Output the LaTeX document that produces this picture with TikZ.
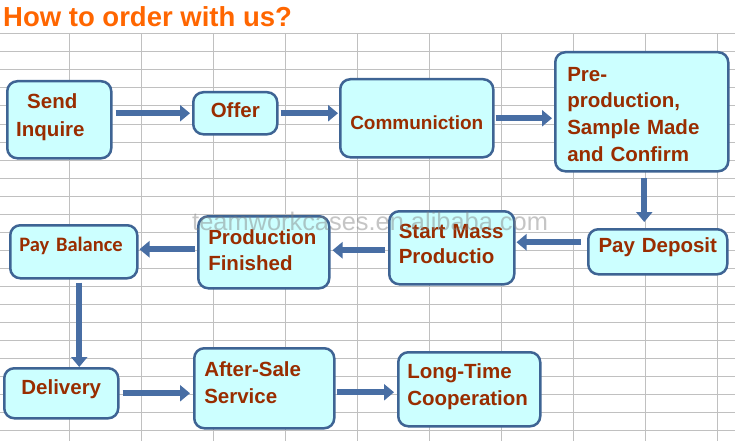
\documentclass[tikz,border=0pt]{standalone}
\usepackage{fontspec}
\setmainfont{Liberation Sans}
\newfontfamily\calibrifont{Carlito}
\usetikzlibrary{arrows.meta, calc}

\definecolor{gridgray}{RGB}{192,192,192}
\definecolor{boxfill}{RGB}{204,255,255}
\definecolor{boxedge}{RGB}{62,100,148}
\definecolor{boxtext}{RGB}{153,45,0}
\definecolor{flowblue}{RGB}{72,110,164}
\definecolor{titleorange}{RGB}{255,102,0}

\begin{document}
\begin{tikzpicture}[x=1pt, y=-1pt,
    gridline/.style={draw=gridgray, line width=1pt},
    box/.style={draw=boxedge, line width=2.5pt, fill=boxfill, rounded corners=10pt,
        text=boxtext, inner ysep=0pt, align=left, anchor=north west,
        font=\bfseries\fontsize{20.5}{26.5}\selectfont},
    flow/.style={draw=flowblue, line width=6pt, -{Triangle[length=10pt, width=16pt]}},
    title/.style={anchor=base west, text=titleorange, inner sep=0pt,
        font=\bfseries\fontsize{27.5}{30}\selectfont},
    watermark/.style={anchor=base west, text=gray, opacity=0.45, inner sep=0pt,
        font=\fontsize{25.4}{28}\selectfont}]
    % Page and grid
    \fill[white] (0,0) rectangle (735,441);
    \useasboundingbox (0,0) rectangle (735,441);
    \foreach \y in {34,52,...,430}
        \draw[gridline] (0,\y) -- (735,\y);
    \foreach \x in {69,141,...,717}
        \draw[gridline] (\x,34) -- (\x,441);

    % Title
    \node[title] (title) at (3,27) {How to order with us?};

    % Boxes, first row
    \node[box, inner xsep=9pt, text width=86pt, text height=27pt, text depth=50pt,
        font=\bfseries\fontsize{20.5}{28}\selectfont] (send) at (6,80) {\hspace*{11pt}Send\\Inquire};
    \node[box, align=center, inner xsep=4pt, text width=76pt, text height=25.7pt, text depth=16.3pt] (offer) at (192,91) {Offer};
    \node[box, align=center, inner xsep=4pt, text width=145pt, text height=50pt, text depth=28pt,
        font=\bfseries\fontsize{19}{24}\selectfont] (comm) at (339,78) {Communiction};
    \node[box, inner xsep=12pt, text width=149pt, text height=29pt, text depth=90pt,
        font=\bfseries\fontsize{20.5}{26.7}\selectfont] (pre) at (554,51) {Pre-\\production,\\Sample Made\\and Confirm};

    % Boxes, second row
    \node[box, align=center, inner xsep=4pt, text width=131pt, text height=23.7pt, text depth=21.3pt] (deposit) at (587,228) {Pay Deposit};
    \node[box, inner xsep=9.5pt, text width=106pt, text height=27pt, text depth=46pt,
        font=\bfseries\fontsize{20.5}{25}\selectfont] (mass) at (388,210) {Start Mass\\Productio};
    \node[box, inner xsep=10pt, text width=111pt, text height=28pt, text depth=44pt,
        font=\bfseries\fontsize{20.5}{26}\selectfont] (finished) at (197,215) {Production\\Finished};
    \node[box, inner xsep=9pt, text width=109pt, text height=26pt, text depth=27pt,
        font=\calibrifont\bfseries\fontsize{20.5}{24}\selectfont] (balance) at (9,224) {Pay Balance};

    % Boxes, third row
    \node[box, align=center, inner xsep=4pt, text width=106pt, text height=26.3pt, text depth=23.7pt] (delivery) at (3,367) {Delivery};
    \node[box, inner xsep=10pt, text width=120pt, text height=28pt, text depth=52pt,
        font=\bfseries\fontsize{20.5}{27}\selectfont] (service) at (193,347) {After-Sale\\Service};
    \node[box, inner xsep=9pt, text width=124pt, text height=26pt, text depth=48pt,
        font=\bfseries\fontsize{20.5}{27}\selectfont] (coop) at (397,351) {Long-Time\\Cooperation};

    % Arrows
    \draw[flow, shorten <=3pt, shorten >=2pt] (send.east |- offer.west) -- (offer.west);
    \draw[flow, shorten <=2pt, shorten >=1pt] (offer.east) -- (offer.east -| comm.west);
    \draw[flow, shorten <=1pt, shorten >=2pt] (comm.east) -- (comm.east -| pre.west);
    \draw[flow, shorten <=5pt, shorten >=6pt] ([xshift=2.5pt]pre.south) -- ([xshift=2.5pt]pre.south |- deposit.north);
    \draw[flow, shorten <=6pt, shorten >=1pt] ([yshift=5.5pt]mass.east -| deposit.west) -- ([yshift=5.5pt]mass.east);
    \draw[flow, shorten <=3pt, shorten >=2pt] ([yshift=-2.5pt]mass.west) -- ([yshift=-2.5pt]mass.west -| finished.east);
    \draw[flow, shorten <=2pt, shorten >=1pt] ([yshift=3pt]finished.west) -- ([yshift=3pt]finished.west -| balance.east);
    \draw[flow, shorten <=3pt, shorten >=0pt] ([xshift=5.5pt]balance.south) -- ([xshift=5.5pt]balance.south |- delivery.north);
    \draw[flow, shorten <=3pt, shorten >=3pt] (delivery.east) -- (delivery.east -| service.west);
    \draw[flow, shorten <=1pt, shorten >=3pt] ([yshift=-4pt]service.east) -- ([yshift=-4pt]service.east -| coop.west);

    % Watermark
    \node[watermark] (mark) at (192,230) {teamworkcases.en.alibaba.com};
\end{tikzpicture}
\end{document}
